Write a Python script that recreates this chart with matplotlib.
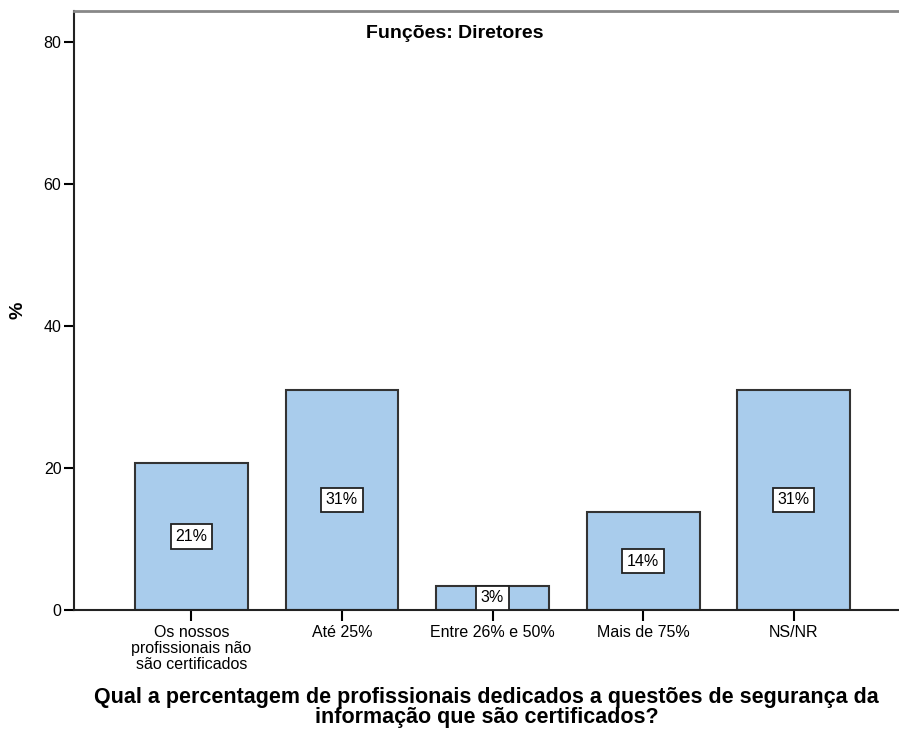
import matplotlib
matplotlib.use("Agg")
import matplotlib.pyplot as plt
import numpy as np

categories = ["Os nossos\nprofissionais não\nsão certificados", "Até 25%", "Entre 26% e 50%", "Mais de 75%", "NS/NR"]
values = [20.7, 31.0, 3.4, 13.8, 31.0]
value_labels = ["21%", "31%", "3%", "14%", "31%"]
yticks = [0, 20, 40, 60, 80]

plt.rcParams['font.family'] = ['Liberation Sans', 'DejaVu Sans']

fig = plt.figure(figsize=(8.99, 7.31), dpi=100)
ax = fig.add_axes([74/899, 121/731, 1 - 74/899, (610-11)/731])

x = np.arange(len(categories))
ax.bar(x, values, width=0.75, color="#A9CCEC", edgecolor="#333333", linewidth=1.5, zorder=2)

for xi, v, lab in zip(x, values, value_labels):
    ax.text(xi, v/2, lab, ha="center", va="center", fontsize=11.5, zorder=3,
            bbox=dict(boxstyle="square,pad=0.3", facecolor="white", edgecolor="#222222", linewidth=1.3))

ax.set_xlim(-0.78, 4.70)
ax.set_ylim(0, 84.4)
ax.set_yticks(yticks)
ax.set_xticks(x)
ax.set_xticklabels(categories, fontsize=11.5, linespacing=1.07)
ax.tick_params(axis="y", labelsize=11.5, length=7, width=1.5, direction="out", pad=2)
ax.tick_params(axis="x", length=8, width=1.5, direction="out", pad=3)

ax.spines["right"].set_visible(False)
ax.spines["top"].set_color("#888888")
ax.spines["top"].set_linewidth(2)
ax.spines["left"].set_linewidth(1.5)
ax.spines["bottom"].set_linewidth(1.5)
ax.spines["left"].set_color("#222222")
ax.spines["bottom"].set_color("#222222")

ax.set_ylabel("%", fontsize=14, fontweight="bold", labelpad=12)
ax.set_xlabel("Qual a percentagem de profissionais dedicados a questões de segurança da\ninformação que são certificados?",
              fontsize=15.5, fontweight="bold", labelpad=11, linespacing=0.95)

ax.text(0.462, 0.963, "Funções: Diretores", transform=ax.transAxes, ha="center", va="center",
        fontsize=14, fontweight="bold")

fig.savefig("out.png", dpi=100)
